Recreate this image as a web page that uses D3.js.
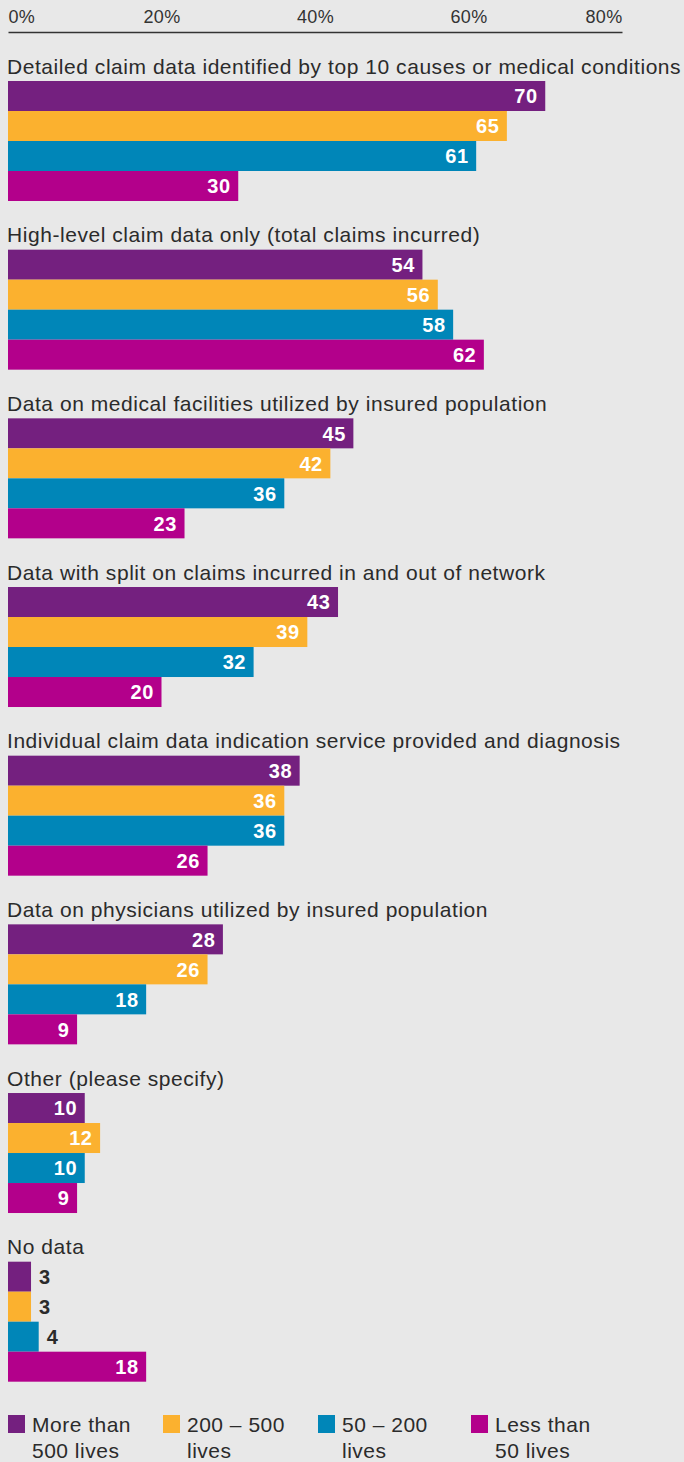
<!DOCTYPE html>
<html>
<head>
<meta charset="utf-8">
<script src="https://cdn.jsdelivr.net/npm/d3@7"></script>
<style>
  html, body { margin: 0; padding: 0; background: #e8e8e8; }
  svg { display: block; font-family: "Liberation Sans", Arial, sans-serif; }
</style>
</head>
<body>
<svg id="chart" width="684" height="1462"></svg>
<script>
// Claim data categories and the share (%) reported by each employer size
const categories = [
  "Detailed claim data identified by top 10 causes or medical conditions",
  "High-level claim data only (total claims incurred)",
  "Data on medical facilities utilized by insured population",
  "Data with split on claims incurred in and out of network",
  "Individual claim data indication service provided and diagnosis",
  "Data on physicians utilized by insured population",
  "Other (please specify)",
  "No data"
];
const seriesNames = ["More than 500 lives", "200 – 500 lives", "50 – 200 lives", "Less than 50 lives"];
const legendLines = [["More than", "500 lives"], ["200 – 500", "lives"], ["50 – 200", "lives"], ["Less than", "50 lives"]];
const over500 = [70, 54, 45, 43, 38, 28, 10, 3];
const from200to500 = [65, 56, 42, 39, 36, 26, 12, 3];
const from50to200 = [61, 58, 36, 32, 36, 18, 10, 4];
const under50 = [30, 62, 23, 20, 26, 9, 9, 18];
const tickValues = [0, 20, 40, 60, 80];
const colors = ["#74207f", "#fbb12f", "#0086b8", "#b3008b"];

const seriesValues = [over500, from200to500, from50to200, under50];
const rows = categories.map((c, i) => ({
  category: c,
  values: seriesNames.map((s, j) => ({ series: s, value: seriesValues[j][i], color: colors[j] }))
}));

const svg = d3.select("#chart");

const x = d3.scaleLinear().domain([0, 80]).range([8, 622]);
const groupStep = 168.67;
const y0 = d3.scaleBand().domain(categories).range([81, 81 + groupStep * categories.length]).paddingInner(0).paddingOuter(0);
const y1 = d3.scaleBand().domain(seriesNames).range([0, 120]);

// Top axis
const axis = svg.append("g").attr("transform", "translate(0,32)")
  .call(d3.axisTop(x).tickValues(tickValues).tickSize(0).tickPadding(9).tickFormat(d => d + "%"));
axis.select(".domain").attr("stroke", "#333").attr("stroke-width", 1.3);
axis.selectAll(".tick text")
  .attr("fill", "#333")
  .style("font-size", "18px")
  .style("letter-spacing", "0.3px")
  .attr("text-anchor", (d, i) => i === 0 ? "start" : (i === tickValues.length - 1 ? "end" : "middle"));

// Groups
const g = svg.append("g").selectAll("g.group").data(rows).join("g")
  .attr("class", "group")
  .attr("transform", d => `translate(0,${y0(d.category)})`);

g.append("text")
  .attr("x", 7)
  .attr("y", -7.5)
  .attr("fill", "#2b2b2b")
  .style("font-size", "21px")
  .style("letter-spacing", "0.55px")
  .text(d => d.category);

const bar = g.selectAll("g.bar").data(d => d.values).join("g").attr("class", "bar");

bar.append("rect")
  .attr("x", x(0))
  .attr("y", d => y1(d.series))
  .attr("width", d => x(d.value) - x(0))
  .attr("height", y1.bandwidth())
  .attr("fill", d => d.color);

const inside = d => (x(d.value) - x(0)) > 40;
bar.append("text")
  .attr("x", d => inside(d) ? x(d.value) - 7.5 : x(d.value) + 8)
  .attr("y", d => y1(d.series) + y1.bandwidth() / 2)
  .attr("dy", "0.36em")
  .attr("text-anchor", d => inside(d) ? "end" : "start")
  .attr("fill", d => inside(d) ? "#fff" : "#2b2b2b")
  .style("font-size", "20px")
  .style("font-weight", "bold")
  .style("letter-spacing", "0.6px")
  .text(d => d.value);

// Legend
const legendX = [8, 163, 318, 471];
const legend = svg.append("g").selectAll("g").data(seriesNames).join("g")
  .attr("transform", (d, i) => `translate(${legendX[i]},1415)`);
legend.append("rect").attr("width", 17).attr("height", 18).attr("fill", (d, i) => colors[i]);
legend.each(function (d, i) {
  const t = d3.select(this).append("text").attr("fill", "#2b2b2b")
    .style("font-size", "21px").style("letter-spacing", "0.5px");
  legendLines[i].forEach((line, k) => {
    t.append("tspan").attr("x", 24).attr("y", 17 + k * 26).text(line);
  });
});
</script>
</body>
</html>
